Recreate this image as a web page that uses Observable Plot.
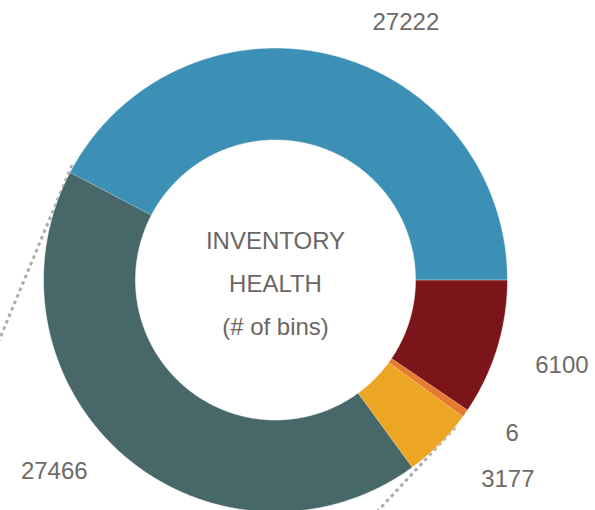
<!DOCTYPE html>
<html><head><meta charset="utf-8">
<script src="https://cdn.jsdelivr.net/npm/d3@7"></script>
<script src="https://cdn.jsdelivr.net/npm/@observablehq/plot@0.6"></script>
<style>
html,body{margin:0;padding:0;background:#fff;overflow:hidden}
#chart svg{display:block}
</style></head><body><div id="chart"></div>
<script>
// ---- data ----
const categories = ["Segment 1", "Segment 2", "Segment 3", "Segment 4", "Segment 5"];
const values = [6100, 6, 3177, 27466, 27222];
const valueLabels = ["6100", "6", "3177", "27466", "27222"];
const colors = ["#7b1519", "#e67a2e", "#eca623", "#476769", "#3d90b5"];
const centerTitle = ["INVENTORY", "HEALTH", "(# of bins)"];

// ---- layout ----
const W = 595, H = 510, CX = 275, CY = 279.5, R_OUT = 232, R_IN = 140, MIN_ANGLE = 2;
const labelLayout = [
  {da: 2.7, r: 276, anchor: "start"},
  {da: -0.2, r: 280.5, anchor: "start"},
  {da: 0.2, r: 292, anchor: "start"},
  {da: 2.5, r: 274, anchor: "end"},
  {da: 7.4, r: 268, anchor: "start"}
];
const connector = {angle: 122.7, dist: 1323, ext: [14, 28]};
const FONT = "'Liberation Sans', Helvetica, Arial, sans-serif";

const rad = d => d * Math.PI / 180;
const total = d3.sum(values);
const raw = values.map(v => v / total * 360);
const small = raw.map(a => a < MIN_ANGLE);
const fixed = d3.sum(raw, (a, i) => small[i] ? MIN_ANGLE : 0);
const rest = d3.sum(raw, (a, i) => small[i] ? 0 : a);
const ang = raw.map((a, i) => small[i] ? MIN_ANGLE : a * (360 - fixed) / rest);
let acc = 0;
const slices = ang.map((a, i) => { const s = {i, a0: acc, a1: acc + a}; acc += a; return s; });

const pts = [];
for (const s of slices) {
  const n = Math.max(2, Math.ceil((s.a1 - s.a0) / 0.5) + 1);
  const as = d3.range(n).map(k => s.a0 + (s.a1 - s.a0) * k / (n - 1));
  for (const a of as) pts.push({key: categories[s.i], x: R_OUT * Math.cos(rad(a)), y: R_OUT * Math.sin(rad(a))});
  for (const a of as.slice().reverse()) pts.push({key: categories[s.i], x: R_IN * Math.cos(rad(a)), y: R_IN * Math.sin(rad(a))});
}

// connectors: tangent lines from a distant focal point, drawn as short segments
const F = {x: connector.dist * Math.cos(rad(connector.angle)), y: connector.dist * Math.sin(rad(connector.angle))};
const alpha = Math.acos(R_OUT / connector.dist) * 180 / Math.PI;
const conn = [];
[connector.angle - alpha, connector.angle + alpha].forEach((ta, k) => {
  const T = {x: R_OUT * Math.cos(rad(ta)), y: R_OUT * Math.sin(rad(ta))};
  const dx = T.x - F.x, dy = T.y - F.y, L = Math.hypot(dx, dy);
  const e = connector.ext[k];
  const S = {x: T.x + dx / L * e, y: T.y + dy / L * e};
  const len = 300;
  conn.push({k, x1: S.x, y1: S.y, x2: S.x - dx / L * len, y2: S.y - dy / L * len});
});

const labels = slices.map(s => {
  const lay = labelLayout[s.i];
  const a = (s.a0 + s.a1) / 2 + lay.da;
  return {text: valueLabels[s.i], anchor: lay.anchor, x: lay.r * Math.cos(rad(a)), y: lay.r * Math.sin(rad(a))};
});

const chart = Plot.plot({
  width: W, height: H, margin: 0,
  style: {background: "#fff", fontFamily: FONT, overflow: "hidden"},
  x: {domain: [-CX, W - CX], range: [0, W], axis: null},
  y: {domain: [-CY, H - CY], range: [0, H], axis: null},
  color: {domain: categories, range: colors},
  marks: [
    Plot.link(conn, {x1: "x1", y1: "y1", x2: "x2", y2: "y2", stroke: "#acacac", strokeWidth: 3, strokeDasharray: "3.5,3.5", strokeLinecap: "butt"}),
    Plot.line(pts, {x: "x", y: "y", z: "key", fill: "key", stroke: "white", strokeWidth: 0.5}),
    Plot.text(labels.filter(d => d.anchor === "start"), {x: "x", y: "y", text: "text", textAnchor: "start", lineAnchor: "bottom", fontSize: 24, fill: "#6e6a66"}),
    Plot.text(labels.filter(d => d.anchor === "end"), {x: "x", y: "y", text: "text", textAnchor: "end", lineAnchor: "bottom", fontSize: 24, fill: "#6e6a66"}),
    Plot.text([{t: centerTitle.join("\n")}], {x: () => 0, y: () => 0, text: "t", fontSize: 24, lineHeight: 1.8, dy: -2, fill: "#6b6662", textAnchor: "middle"})
  ]
});
document.getElementById("chart").appendChild(chart);
</script>
</body></html>
